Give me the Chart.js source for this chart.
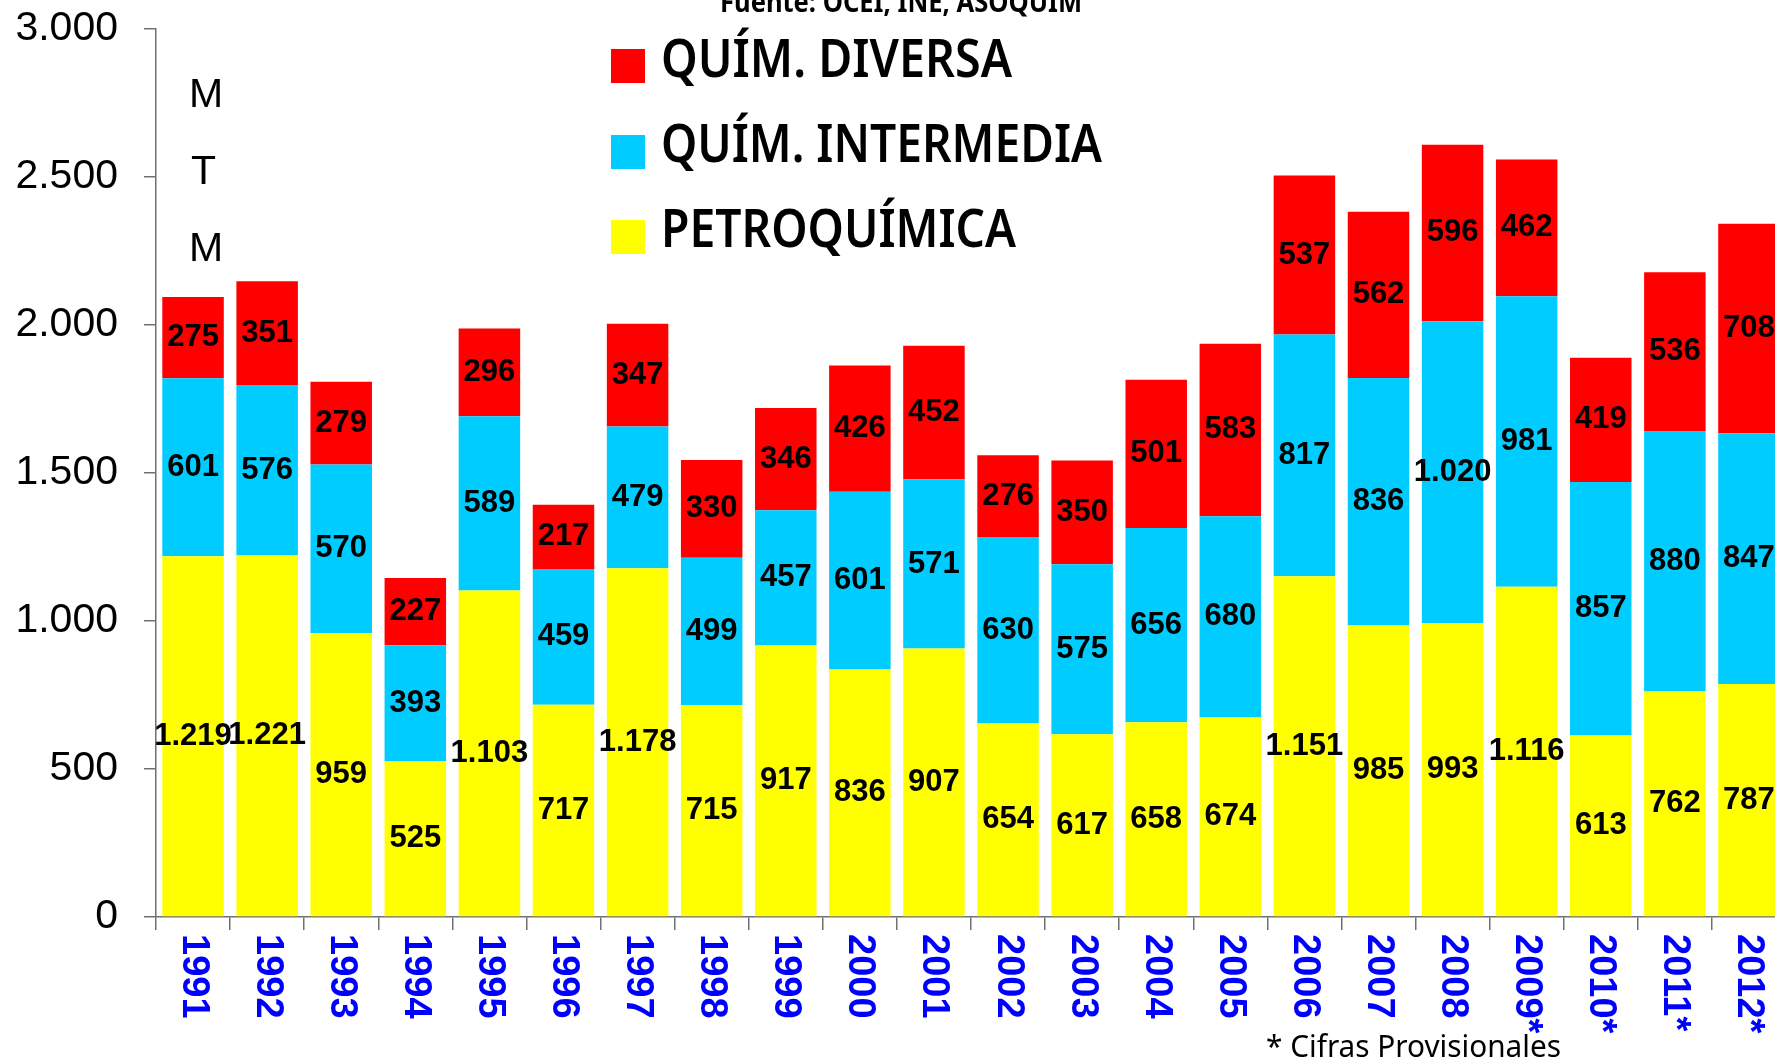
<!DOCTYPE html>
<html>
<head>
<meta charset="utf-8">
<title>Producción química</title>
<script src="https://cdn.jsdelivr.net/npm/chart.js@4.4.1/dist/chart.umd.min.js"></script>
<style>
    html, body { margin: 0; padding: 0; background: #fff; overflow: hidden; }
    #wrap { position: relative; width: 1775px; height: 1061px; overflow: hidden; }
    #chart { position: absolute; left: 0; top: 0; }
    .txt { position: absolute; white-space: nowrap; line-height: 1; transform-origin: 0 0; color: #000; }
    .cond { font-family: "Noto Sans", sans-serif; }
    .arial { font-family: "Liberation Sans", Arial, sans-serif; }
    .sw { position: absolute; width: 34px; height: 34px; }
</style>
</head>
<body>
<div id="wrap">
    <canvas id="chart" width="1786" height="1061"></canvas>

    <!-- Source line, cut off at the top like in the original -->
    <div class="txt cond" data-w="362" style="left:720px; top:-13px; font-size:28px; font-weight:700;">Fuente: OCEI, INE, ASOQUIM</div>

    <!-- Unit letters -->
    <div class="txt arial" style="left:189px; top:73px; font-size:41px;">M</div>
    <div class="txt arial" style="left:191px; top:150px; font-size:41px;">T</div>
    <div class="txt arial" style="left:189px; top:227px; font-size:41px;">M</div>

    <!-- Legend -->
    <div class="sw" style="left:611px; top:49px; background:#FF0000;"></div>
    <div class="txt cond" data-w="351" style="left:661px; top:30px; font-size:53px; font-weight:600;">QUÍM. DIVERSA</div>
    <div class="sw" style="left:611px; top:135px; background:#00CCFF;"></div>
    <div class="txt cond" data-w="441" style="left:661px; top:115px; font-size:53px; font-weight:600;">QUÍM. INTERMEDIA</div>
    <div class="sw" style="left:611px; top:220px; background:#FFFF00;"></div>
    <div class="txt cond" data-w="355" style="left:661px; top:200px; font-size:53px; font-weight:600;">PETROQUÍMICA</div>

    <!-- Footnote -->
    <div class="txt cond" data-w="295" style="left:1266px; top:1030px; font-size:31px;">* Cifras Provisionales</div>
</div>

<script>
// Data (miles de toneladas métricas)
const years = ['1991', '1992', '1993', '1994', '1995', '1996', '1997', '1998', '1999', '2000', '2001',
               '2002', '2003', '2004', '2005', '2006', '2007', '2008', '2009*', '2010*', '2011*', '2012*'];
const petroquimica   = [1219, 1221, 959, 525, 1103, 717, 1178, 715, 917, 836, 907,
                        654, 617, 658, 674, 1151, 985, 993, 1116, 613, 762, 787];
const quimIntermedia = [601, 576, 570, 393, 589, 459, 479, 499, 457, 601, 571,
                        630, 575, 656, 680, 817, 836, 1020, 981, 857, 880, 847];
const quimDiversa    = [275, 351, 279, 227, 296, 217, 347, 330, 346, 426, 452,
                        276, 350, 501, 583, 537, 562, 596, 462, 419, 536, 708];
const yMax = 3000;
const yStep = 500;

// Thousands with a dot, Spanish style ("1.219")
function fmt(v) {
    return String(v).replace(/\B(?=(\d{3})+(?!\d))/g, '.');
}

// Squeeze text boxes horizontally to the width seen in the original
document.querySelectorAll('.txt[data-w]').forEach(el => {
    const w = el.getBoundingClientRect().width;
    const target = parseFloat(el.dataset.w);
    if (w > 0) el.style.transform = 'scaleX(' + (target / w) + ')';
});

// Value labels in the middle of each segment
const valueLabels = {
    id: 'valueLabels',
    afterDatasetsDraw(chart) {
        const ctx = chart.ctx;
        ctx.save();
        ctx.font = 'bold 31px "Liberation Sans", Arial, sans-serif';
        ctx.fillStyle = '#000';
        ctx.textAlign = 'center';
        ctx.textBaseline = 'middle';
        chart.data.datasets.forEach((ds, i) => {
            chart.getDatasetMeta(i).data.forEach((bar, j) => {
                ctx.fillText(fmt(ds.data[j]), bar.x, (bar.y + bar.base) / 2);
            });
        });
        ctx.restore();
    }
};

// Year labels, turned clockwise (read top to bottom)
const yearLabels = {
    id: 'yearLabels',
    afterDraw(chart) {
        const ctx = chart.ctx;
        const xs = chart.scales.x;
        ctx.save();
        ctx.font = 'bold 38px "Liberation Sans", Arial, sans-serif';
        ctx.fillStyle = '#0000FF';
        ctx.textAlign = 'left';
        ctx.textBaseline = 'middle';
        chart.data.labels.forEach((lab, i) => {
            ctx.save();
            ctx.translate(xs.getPixelForValue(i), xs.top + 17);
            ctx.rotate(Math.PI / 2);
            ctx.fillText(lab, 0, 0);
            ctx.restore();
        });
        ctx.restore();
    }
};

const axisColor = '#707070';

new Chart(document.getElementById('chart'), {
    type: 'bar',
    data: {
        labels: years,
        datasets: [
            { label: 'PETROQUÍMICA', data: petroquimica, backgroundColor: '#FFFF00' },
            { label: 'QUÍM. INTERMEDIA', data: quimIntermedia, backgroundColor: '#00CCFF' },
            { label: 'QUÍM. DIVERSA', data: quimDiversa, backgroundColor: '#FF0000' }
        ]
    },
    options: {
        responsive: false,
        animation: false,
        devicePixelRatio: 1,
        layout: { padding: { top: 29, right: 0, bottom: 0, left: 0 } },
        datasets: { bar: { barPercentage: 0.83, categoryPercentage: 1.0, borderWidth: 0 } },
        plugins: {
            legend: { display: false },
            tooltip: { enabled: false }
        },
        scales: {
            x: {
                stacked: true,
                grid: { display: true, drawOnChartArea: false, drawTicks: true, tickLength: 13, color: axisColor, lineWidth: 1.5 },
                border: { display: true, color: axisColor, width: 1.5 },
                ticks: { display: false },
                afterFit: s => { s.height = 144; }
            },
            y: {
                stacked: true,
                min: 0,
                max: yMax,
                grid: { display: true, drawOnChartArea: false, drawTicks: true, tickLength: 12, color: axisColor, lineWidth: 1.5 },
                border: { display: true, color: axisColor, width: 1.5 },
                ticks: {
                    stepSize: yStep,
                    padding: 26,
                    color: '#000',
                    font: { family: '"Liberation Sans", Arial, sans-serif', size: 41 },
                    callback: v => fmt(v)
                },
                // fixed width; drop the label overhang so the plot top sits at the padding
                afterFit: s => { s.width = 156; s.paddingTop = 0; s.paddingBottom = 0; }
            }
        }
    },
    plugins: [valueLabels, yearLabels]
});
</script>
</body>
</html>
